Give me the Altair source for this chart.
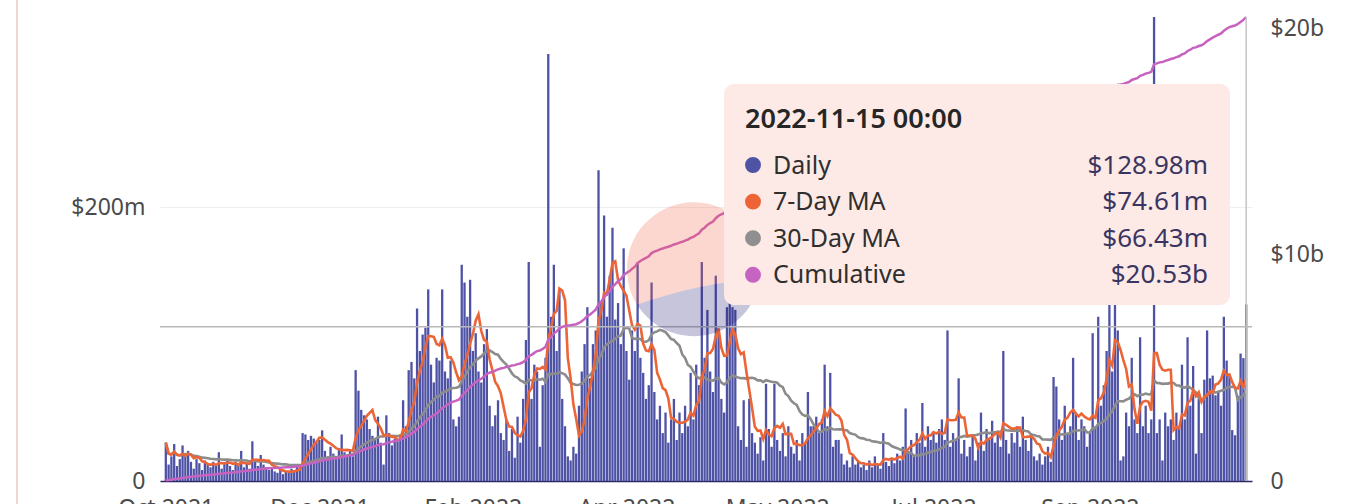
import altair as alt
import pandas as pd

FONT = "Noto Sans"

# Daily volume in $ millions, one value per day from 2021-10-24 to 2022-11-15
daily_2021_10 = [28, 12, 18, 27, 11, 16, 26, 19]
daily_2021_11 = [22, 14, 9, 16, 13, 8, 15, 12, 10, 14, 11, 21, 9, 13, 15,
                 11, 8, 14, 12, 22, 10, 13, 9, 29, 14, 11, 19, 12, 10, 8]
daily_2021_12 = [9, 7, 6, 8, 5, 7, 6, 9, 8, 12, 10, 35, 34, 30, 33, 31,
                 28, 30, 37, 22, 18, 25, 20, 16, 24, 34, 21, 19, 23, 18, 81]
daily_2022_01 = [66, 52, 48, 45, 38, 33, 30, 47, 28, 12, 48, 35, 26, 31, 29, 34,
                 59, 40, 81, 87, 75, 126, 95, 107, 112, 140, 85, 72, 90, 88, 140]
daily_2022_02 = [80, 75, 88, 45, 40, 47, 158, 145, 120, 147, 95, 108, 80, 72,
                 100, 111, 55, 40, 48, 59, 35, 30, 45, 22, 38, 17, 47, 28]
daily_2022_03 = [60, 103, 160, 60, 85, 80, 25, 70, 90, 312, 120, 158, 95, 139, 60, 40,
                 18, 15, 25, 20, 55, 80, 100, 127, 75, 100, 110, 227, 130, 194, 120]
daily_2022_04 = [150, 185, 118, 130, 100, 170, 95, 74, 110, 95, 160, 90, 79, 60, 70,
                 145, 65, 45, 55, 35, 50, 28, 45, 60, 30, 50, 35, 55, 40, 79]
daily_2022_05 = [45, 85, 70, 160, 90, 125, 80, 65, 150, 110, 60, 50, 127, 150, 127, 125,
                 40, 30, 59, 25, 60, 35, 28, 20, 32, 15, 71, 38, 25, 71, 30]
daily_2022_06 = [22, 35, 18, 40, 25, 20, 30, 15, 35, 28, 65, 40, 40, 47, 35,
                 45, 85, 40, 79, 25, 30, 30, 20, 12, 15, 10, 18, 12, 14, 10]
daily_2022_07 = [12, 8, 15, 10, 18, 12, 9, 35, 14, 11, 16, 13, 20, 15, 25, 53,
                 22, 30, 18, 35, 28, 57, 25, 40, 30, 35, 28, 38, 45, 30, 110]
daily_2022_08 = [25, 35, 30, 75, 20, 30, 18, 25, 33, 15, 28, 50, 22, 38, 30, 44,
                 28, 35, 25, 95, 30, 20, 35, 28, 40, 25, 47, 30, 22, 35, 18]
daily_2022_09 = [15, 20, 12, 18, 25, 14, 76, 69, 45, 30, 55, 35, 40, 90, 50,
                 30, 45, 40, 25, 35, 108, 40, 120, 55, 70, 95, 130, 80, 170, 110]
daily_2022_10 = [15, 18, 50, 40, 90, 45, 35, 105, 40, 55, 35, 45, 339, 35, 45, 15,
                 50, 40, 45, 30, 50, 40, 85, 45, 105, 55, 84, 20, 60, 35, 74]
daily_2022_11 = [110, 75, 77, 62.63, 65, 55, 120, 88,
                 77.5, 37.2, 33.4, 62.3, 93.1, 89.79, 128.98]

first_day = "2021-10-24"
monthly_blocks = [daily_2021_10, daily_2021_11, daily_2021_12, daily_2022_01,
                  daily_2022_02, daily_2022_03, daily_2022_04, daily_2022_05,
                  daily_2022_06, daily_2022_07, daily_2022_08, daily_2022_09,
                  daily_2022_10, daily_2022_11]
daily = [v for block in monthly_blocks for v in block]
dates = pd.date_range(first_day, periods=len(daily), freq="D")
df = pd.DataFrame({"date": dates, "daily": daily})

# x-axis tick dates and their labels
tick_dates = ["2021-10-24", "2021-12-18", "2022-02-11", "2022-04-07",
              "2022-05-31", "2022-07-26", "2022-09-20"]
left_ticks = [0, 200]        # $ millions
right_ticks = [0, 10, 20]    # $ billions
pointer_level = 112.7        # horizontal crosshair, $ millions

# hover card contents
tip_title = "2022-11-15 00:00"
tip_labels = ["Daily", "7-Day MA", "30-Day MA", "Cumulative"]
tip_values = ["$128.98m", "$74.61m", "$66.43m", "$20.53b"]
tip_colors = ["#4f53a3", "#ef6437", "#8f8f8f", "#c664c2"]

C_BAR, C_MA7, C_MA30, C_CUM = "#4e52a5", "#ec6537", "#8c8c8c", "#c762c0"
LABEL_COLOR = "#4b4b4b"


def dt(s, hours=0):
    t = pd.Timestamp(s)
    return alt.DateTime(year=t.year, month=t.month, date=t.day, hours=hours)


x_domain = [dt("2021-10-23", 17), dt("2022-11-15", 7)]
x_axis = alt.Axis(values=[dt(s) for s in tick_dates],
                  labelExpr="timeFormat(datum.value, '%b %Y')",
                  title=None, ticks=False, grid=False,
                  domainColor="#2c2960", domainWidth=1.5,
                  labelFont=FONT, labelFontSize=23, labelColor=LABEL_COLOR,
                  labelPadding=16, labelFlush=False, labelOverlap=False)
x_enc = alt.X("date:T", scale=alt.Scale(domain=x_domain), axis=x_axis)

left_axis = alt.Axis(values=left_ticks, title=None, ticks=False, domain=False,
                     grid=True, gridColor="#efefef", gridWidth=1,
                     labelExpr="datum.value == 0 ? '0' : '$' + datum.value + 'm'",
                     labelFont=FONT, labelFontSize=23, labelColor=LABEL_COLOR,
                     labelPadding=15)
left_scale = alt.Scale(nice=False, zero=True)

right_axis = alt.Axis(orient="right", values=right_ticks, title=None, ticks=False,
                      domain=False, grid=False,
                      labelExpr="datum.value == 0 ? '0' : '$' + datum.value + 'b'",
                      labelFont=FONT, labelFontSize=23, labelColor=LABEL_COLOR,
                      labelPadding=18)

base = alt.Chart(df).transform_window(
    ma7="mean(daily)", frame=[-6, 0], sort=[alt.SortField("date")]
).transform_window(
    ma30="mean(daily)", frame=[-29, 0], sort=[alt.SortField("date")]
).transform_window(
    cum="sum(daily)", frame=[None, 0], sort=[alt.SortField("date")]
).transform_calculate(cum_b="datum.cum / 1000")

bars = base.mark_bar(size=2.3, color=C_BAR).encode(
    x=x_enc, y=alt.Y("daily:Q", scale=left_scale, axis=left_axis))
ma30 = base.mark_line(color=C_MA30, strokeWidth=2.6).encode(
    x=x_enc, y=alt.Y("ma30:Q", scale=left_scale, axis=left_axis))
ma7 = base.mark_line(color=C_MA7, strokeWidth=2.6).encode(
    x=x_enc, y=alt.Y("ma7:Q", scale=left_scale, axis=left_axis))
crosshair = alt.Chart(pd.DataFrame({"level": [pointer_level]})).mark_rule(
    color="#b8b8b8", strokeWidth=1.5).encode(
    y=alt.Y("level:Q", scale=left_scale, axis=left_axis))

left = alt.layer(bars, ma30, ma7, crosshair)

cumulative = base.mark_line(color=C_CUM, strokeWidth=2.5).encode(
    x=x_enc,
    y=alt.Y("cum_b:Q", scale=alt.Scale(nice=False, zero=True), axis=right_axis))

# vertical pointer at the hovered (latest) day
pointer = alt.Chart(df).transform_window(
    rank="row_number()", sort=[alt.SortField("date", order="descending")]
).transform_filter("datum.rank == 1").mark_rule(
    color="#c4c4c4", strokeWidth=1.5).encode(x=x_enc)

one = pd.DataFrame({"k": [0]})

# faint logo watermark in the middle of the plot
logo_top = "M -0.85 0.53 A 1 1 0 1 1 0.99 0.14 Q 0.1 0.2 -0.85 0.53 Z"
logo_bottom = "M -0.85 0.53 A 1 1 0 0 0 0.99 0.14 Q 0.1 0.2 -0.85 0.53 Z"
logo_a = alt.Chart(one).mark_point(shape=logo_top, size=17956, filled=True,
                                   color="#f4603e", opacity=0.25, strokeWidth=0
                                   ).encode(x=alt.value(534), y=alt.value(252))
logo_b = alt.Chart(one).mark_point(shape=logo_bottom, size=17956, filled=True,
                                   color="#1e1870", opacity=0.25, strokeWidth=0
                                   ).encode(x=alt.value(534), y=alt.value(252))

# hover card
card = alt.Chart(one).mark_rect(color="#fdeae6", cornerRadius=10).encode(
    x=alt.value(564), x2=alt.value(1070), y=alt.value(67), y2=alt.value(288))
card_title = alt.Chart(one).mark_text(
    align="left", baseline="alphabetic", font=FONT, fontSize=27,
    fontWeight=600, color="#262626").encode(
    x=alt.value(585), y=alt.value(111), text=alt.value(tip_title))

tip_df = pd.DataFrame({"label": tip_labels, "value": tip_values,
                       "color": tip_colors, "row": list(range(len(tip_labels)))})
tip_base = alt.Chart(tip_df).transform_calculate(
    ytext="157 + datum.row * 36.4", ydot="148 + datum.row * 36.6")
tip_dots = tip_base.mark_circle(size=254, opacity=1).encode(
    x=alt.value(593), y=alt.Y("ydot:Q", scale=None),
    color=alt.Color("color:N", scale=None))
tip_names = tip_base.mark_text(align="left", baseline="alphabetic", font=FONT,
                               fontSize=25, color="#2f2f2f").encode(
    x=alt.value(613), y=alt.Y("ytext:Q", scale=None), text="label:N")
tip_nums = tip_base.mark_text(align="right", baseline="alphabetic", font=FONT,
                              fontSize=26, color="#3b3561").encode(
    x=alt.value(1048), y=alt.Y("ytext:Q", scale=None), text="value:N")

# thin page border on the far left
border = alt.Chart(one).mark_rule(color="#efd6d1", strokeWidth=2).encode(
    x=alt.value(-143), y=alt.value(-17), y2=alt.value(487))

chart = alt.layer(
    left, cumulative, pointer, logo_a, logo_b,
    card, card_title, tip_dots, tip_names, tip_nums, border
).resolve_scale(y="independent").properties(
    width=1092, height=464,
    padding={"left": 160, "top": 17, "right": 116, "bottom": 23},
    autosize=alt.AutoSizeParams(type="none"),
    background="white",
).configure_view(strokeWidth=0)

chart.save("out.html", embed_options={"renderer": "svg", "actions": False})
